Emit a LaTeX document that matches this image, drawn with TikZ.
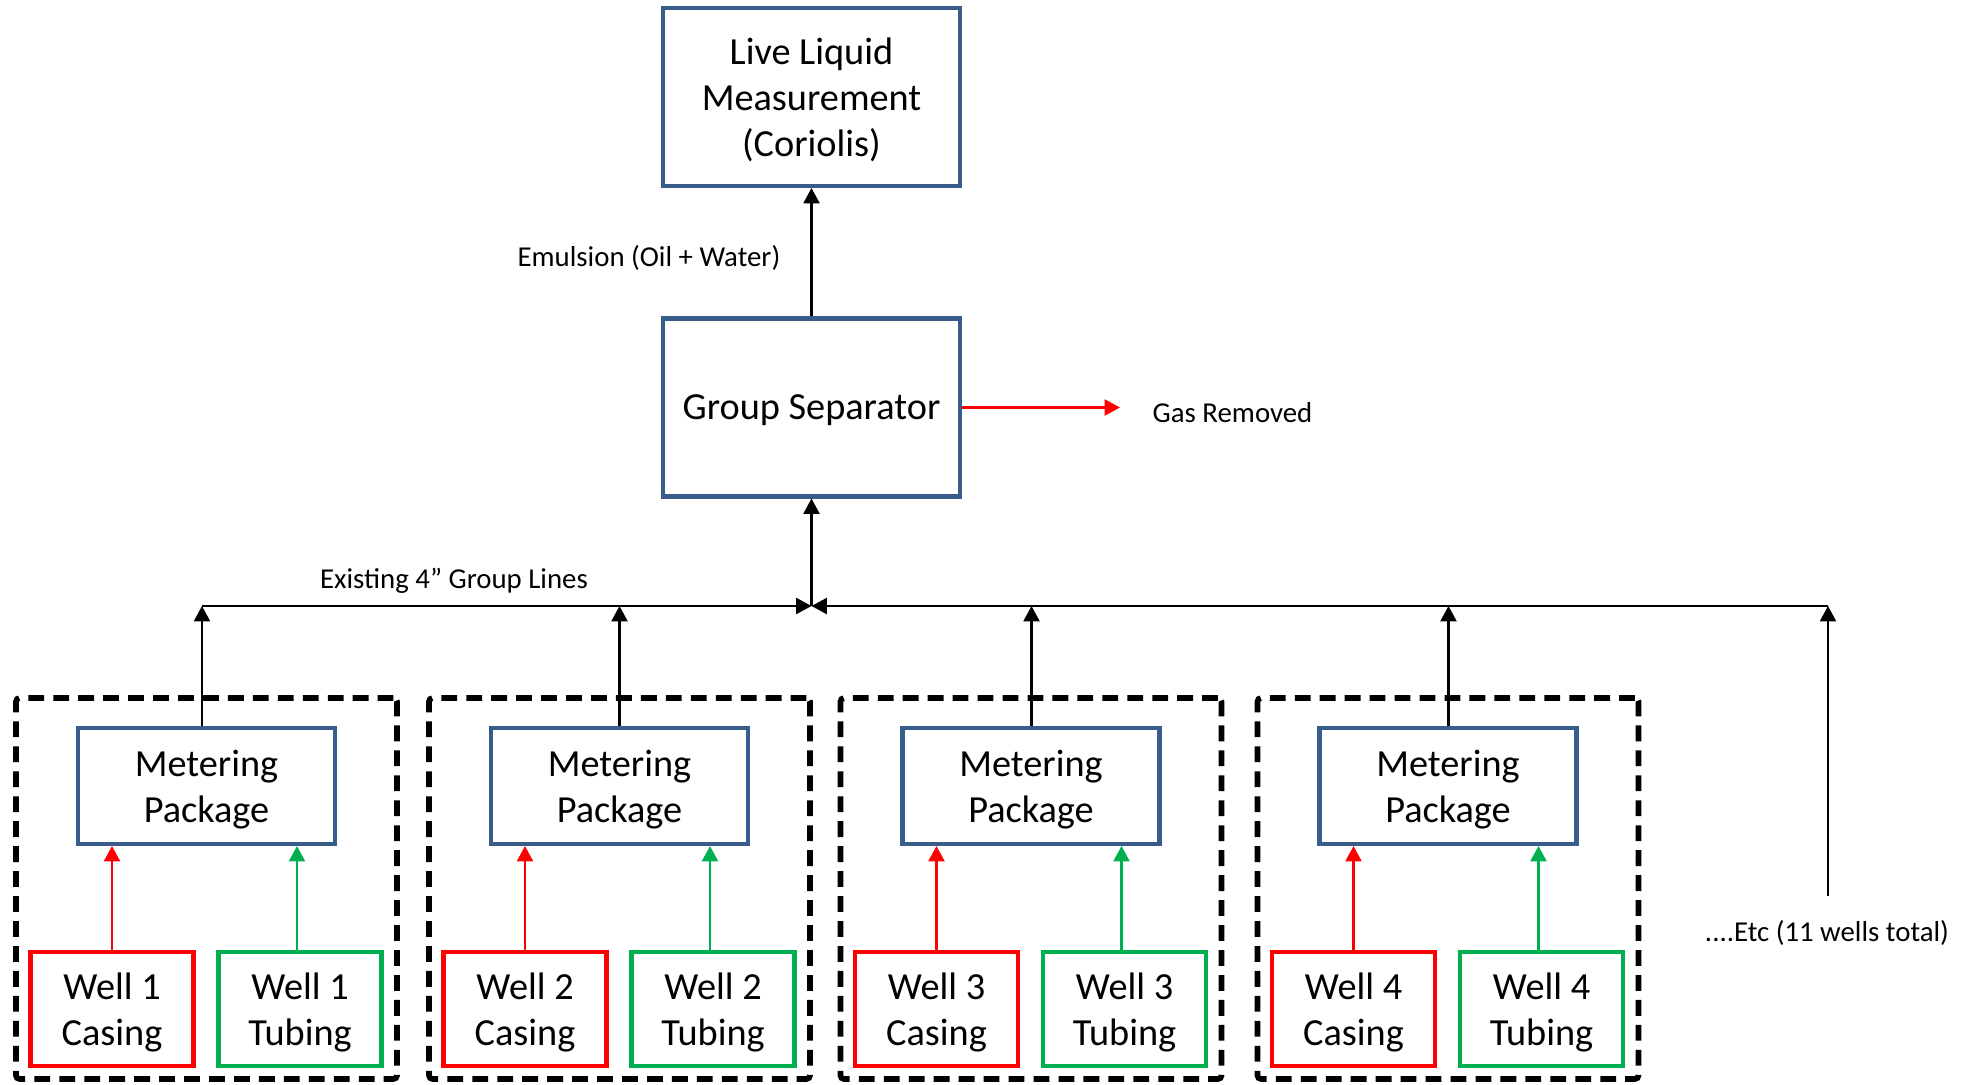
\documentclass[tikz,border=0pt]{standalone}
\usepackage{fontspec}
\setmainfont{Carlito}
\usetikzlibrary{arrows.meta}
\definecolor{boxblue}{RGB}{56,93,138}
\definecolor{wellred}{RGB}{255,0,0}
\definecolor{wellgreen}{RGB}{0,176,80}
\tikzset{
  boxtext/.style={align=center,inner sep=0pt,text depth=-1.2pt,font=\fontsize{10.9}{13.1}\selectfont},
  unit/.style={boxtext,draw=boxblue,line width=1.15pt},
  casing/.style={boxtext,draw=wellred,line width=1.4pt,minimum width=1.63cm,minimum height=1.14cm},
  tubing/.style={boxtext,draw=wellgreen,line width=1.4pt,minimum width=1.63cm,minimum height=1.14cm},
  group/.style={draw,line width=1.6pt,dash pattern=on 4.5pt off 2.6pt,rounded corners=1pt,
    minimum width=3.81cm,minimum height=3.81cm},
  note/.style={inner sep=0pt,font=\fontsize{8.2}{10}\selectfont},
  tip/.style={-{Triangle[width=4.6pt,length=4.4pt]}},
  flow/.style={tip,line width=0.6pt},
  redflow/.style={flow,draw=wellred,-{Triangle[width=4.6pt,length=4.4pt,fill=wellred]}},
  greenflow/.style={flow,draw=wellgreen,-{Triangle[width=4.6pt,length=4.4pt,fill=wellgreen]}}
}
\begin{document}
\begin{tikzpicture}
  \useasboundingbox (0,0) rectangle (19.62,-10.85);

  % measurement and separator
  \node[unit,minimum width=2.97cm,minimum height=1.78cm] (live) at (8.115,-0.97)
    {Live Liquid\\Measurement\\(Coriolis)};
  \node[unit,minimum width=2.97cm,minimum height=1.78cm] (sep) at (8.115,-4.075)
    {Group Separator};
  \draw[flow] (sep) -- (live);
  \node[note,anchor=east] (emulsion) at (7.81,-2.58) {Emulsion (Oil + Water)};

  \coordinate (gas) at (11.2,-4.075);
  \draw[redflow] (sep) -- (gas);
  \node[note,anchor=west] (gaslabel) at (11.52,-4.13) {Gas Removed};

  % group line header
  \coordinate (hub) at (8.115,-6.06);
  \coordinate (etchead) at (18.28,-6.06);
  \coordinate (etcfoot) at (18.28,-8.96);
  \draw[flow] (hub) -- (sep);
  \node[note] (linelabel) at (4.54,-5.81) {Existing 4” Group Lines};
  \node[note] (etc) at (18.27,-9.33) {....Etc (11 wells total)};
  \draw[flow] (etcfoot) -- (etchead);
  \draw[flow] (etchead) -- (hub);

  % well groups
  \foreach \i/\x/\d in {1/2.065/-0.45,2/6.195/0,3/10.31/0.05,4/14.48/0.05} {
    \node[group] (g\i) at (\x,-8.885) {};
    \node[unit,minimum width=2.57cm,minimum height=1.16cm] (m\i) at (\x,-7.86)
      {Metering\\Package};
    \node[casing] (c\i) at (\x-0.945,-10.09) {Well \i\\Casing};
    \node[tubing] (t\i) at (\x+0.935,-10.09) {Well \i\\Tubing};
    \draw[redflow] (c\i) -- (c\i |- m\i.south);
    \draw[greenflow] ([xshift=-0.3mm]t\i.north) -- ([xshift=-0.3mm]t\i.north |- m\i.south);
    \draw[flow] ([xshift=\d mm]m\i.north) -- ([xshift=\d mm]m\i.north |- hub);
  }
  \draw[flow] ([xshift=-0.45mm]m1.north |- hub) -- (hub);
\end{tikzpicture}
\end{document}
